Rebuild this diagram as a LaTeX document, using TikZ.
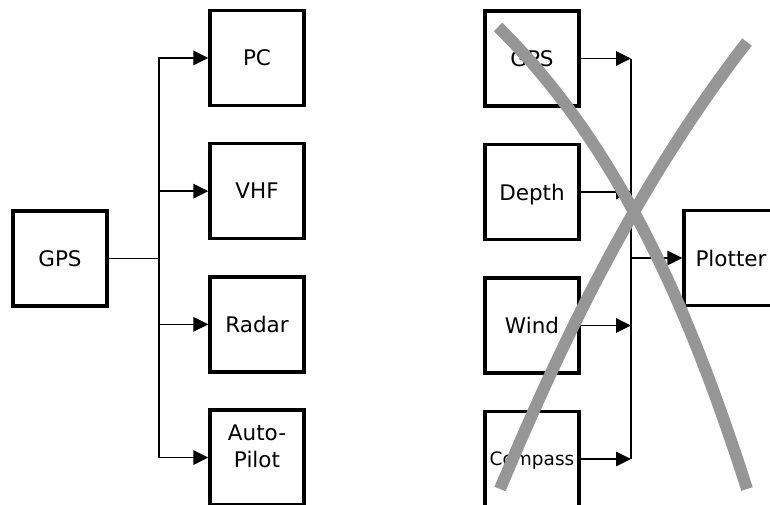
\documentclass[tikz,border=0pt]{standalone}
\usepackage{fontspec}
\setmainfont{DejaVu Sans}
\usetikzlibrary{arrows.meta,positioning}

\definecolor{crossgray}{RGB}{150,150,150}

\tikzset{
    boxfont/.style={font=\fontsize{21.5}{27}\selectfont},
    unitbox/.style={draw,line width=3.3pt,minimum width=94pt,minimum height=95pt,
        inner sep=0pt,text depth=0pt,boxfont},
    link/.style={line width=1.5pt},
    feed/.style={link,-{Triangle[length=15pt,width=14.5pt]}},
    cross/.style={line width=12pt,color=crossgray},
}

\begin{document}
\begin{tikzpicture}[x=1pt,y=-1pt]
        \useasboundingbox (0,0) rectangle (770,504);
        % one source feeding many
        \node [unitbox] (gps) at (60,258.5) {GPS};
        \matrix [row sep={133.2pt,between origins},nodes={unitbox,anchor=center}] at (257,257.75) {
            \node (pc) {PC}; \\
            \node (vhf) {VHF}; \\
            \node (radar) {Radar}; \\
            \node [label={[align=center,yshift=11.5pt,boxfont]center:Auto-\\Pilot}] (autopilot) {}; \\
        };
        \coordinate (fork) at (159,258.5);
        \draw [link] (gps) -- (fork);
        \foreach \n in {pc,vhf,radar,autopilot}
            \draw [feed] (fork) |- (\n);
        % many sources feeding one
        \matrix [row sep={133.5pt,between origins},nodes={unitbox,anchor=center}] at (532,258.75) {
            \node (gpsin) {GPS}; \\
            \node (depth) {Depth}; \\
            \node (wind) {Wind}; \\
            \node [font=\fontsize{18.5}{22}\selectfont] (compass) {Compass}; \\
        };
        \node [unitbox] (plotter) at (731,258) {Plotter};
        \coordinate (join) at (631,258);
        \foreach \n in {gpsin,depth,wind,compass}
            \draw [feed] (\n) -- (\n -| join);
        \draw [link] (gpsin -| join) -- (compass -| join);
        \draw [feed] (join) -- (plotter);
        % crossed out
        \draw [cross] (498,27) .. controls (626,152.5) and (695.5,329) .. (747,489);
        \draw [cross] (747,42) .. controls (642,177.5) and (566,331) .. (500,489);
    \end{tikzpicture}
\end{document}
